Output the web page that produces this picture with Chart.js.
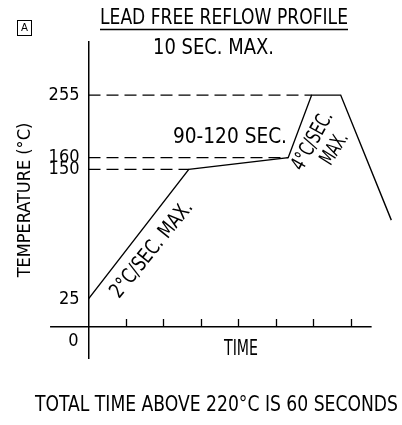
<!DOCTYPE html>
<html>
<head>
<meta charset="utf-8">
<script src="https://cdn.jsdelivr.net/npm/chart.js@4/dist/chart.umd.min.js"></script>
<style>
  html, body { margin: 0; padding: 0; background: #fff; }
  canvas { display: block; }
</style>
</head>
<body>
<canvas id="myChart" width="402" height="425"></canvas>
<script>
// profile (time in seconds, temperature in °C)
const profileTime = [0, 107, 213, 238, 269, 323];
const profileTemp = [25, 150, 160, 255, 255, 101];
// labelled temperatures on the vertical axis
const tempTicks = [25, 150, 160, 255];
// levels that get a dashed guide back to the axis
const guideLevels = [150, 160, 255];
// tick marks on the time axis
const timeTicks = [40, 80, 120, 160, 200, 240, 280];

const FONT = '"Liberation Sans Narrow", "DejaVu Sans Condensed", "Liberation Sans", sans-serif';
Chart.defaults.font.family = FONT;
Chart.defaults.color = '#000';

// the drawing is schematic: temperature axis is stretched piecewise
class BrokenScale extends Chart.LinearScale {
    getPixelForValue(value) {
        if (value === null || value === undefined || isNaN(value)) return NaN;
        const v = this.options.breakValues, f = this.options.breakFractions;
        let i = 1;
        while (i < v.length - 1 && value > v[i]) i++;
        const dec = f[i - 1] + (value - v[i - 1]) / (v[i] - v[i - 1]) * (f[i] - f[i - 1]);
        return this.getPixelForDecimal(dec);
    }
    getValueForPixel(pixel) {
        const v = this.options.breakValues, f = this.options.breakFractions;
        const dec = this.getDecimalForPixel(pixel);
        let i = 1;
        while (i < f.length - 1 && dec > f[i]) i++;
        return v[i - 1] + (dec - f[i - 1]) / (f[i] - f[i - 1]) * (v[i] - v[i - 1]);
    }
}
BrokenScale.id = 'broken';
BrokenScale.defaults = Chart.LinearScale.defaults;
Chart.register(BrokenScale);

const profile = profileTime.map((t, i) => ({ x: t, y: profileTemp[i] }));

const guides = guideLevels.map(level => {
    const t = profileTime[profileTemp.indexOf(level)];
    return {
        data: [{ x: 0, y: level }, { x: t, y: level }],
        borderColor: '#000',
        borderWidth: 1.4,
        borderDash: [12, 6],
        pointRadius: 0
    };
});

function fitText(c, text, x, y, width, size, angle) {
    c.save();
    c.translate(x, y);
    c.rotate(angle || 0);
    c.font = size + 'px ' + FONT;
    c.textAlign = 'center';
    c.textBaseline = 'middle';
    const w = c.measureText(text).width;
    c.scale(width / w, 1);
    c.fillText(text, 0, 0);
    c.restore();
}

const drawing = {
    id: 'drawing',
    afterDraw(chart) {
        const c = chart.ctx;
        const xs = chart.scales.x, ys = chart.scales.y;
        const y0 = ys.getPixelForValue(0);
        c.save();
        c.strokeStyle = '#000';
        c.fillStyle = '#000';
        c.lineWidth = 1.5;

        // time axis line, runs a little left of the origin
        c.beginPath();
        c.moveTo(xs.getPixelForValue(-41), y0);
        c.lineTo(xs.getPixelForValue(302), y0);
        c.stroke();

        c.font = '18px ' + FONT;
        c.textAlign = 'right';
        c.textBaseline = 'middle';
        c.fillText('0', ys.right - 10, y0 + 15);

        fitText(c, 'TIME', 241, 350, 34, 21);

        // header
        fitText(c, 'LEAD FREE REFLOW PROFILE', 224, 19, 248, 21);
        c.lineWidth = 1.3;
        c.beginPath();
        c.moveTo(100, 29.5);
        c.lineTo(348, 29.5);
        c.stroke();

        c.lineWidth = 1;
        c.strokeRect(17.5, 20.5, 14, 15);
        fitText(c, 'A', 24.5, 28.5, 7, 11);

        // notes
        fitText(c, '10 SEC. MAX.', 213.5, 49, 121, 21);
        fitText(c, '90-120 SEC.', 230, 138, 114, 21);
        fitText(c, '2°C/SEC. MAX.', 152, 250, 118, 21, -51 * Math.PI / 180);
        fitText(c, '4°C/SEC.', 313, 141, 64, 21, -61 * Math.PI / 180);
        fitText(c, 'MAX.', 335, 149, 34, 21, -58 * Math.PI / 180);
        fitText(c, 'TOTAL TIME ABOVE 220°C IS 60 SECONDS', 216.5, 406, 363, 21);
        c.restore();
    }
};

const ctx = document.getElementById('myChart');
new Chart(ctx, {
    type: 'line',
    data: {
        datasets: [{
            data: profile,
            borderColor: '#000',
            borderWidth: 1.4,
            pointRadius: 0,
            tension: 0,
            clip: false
        }].concat(guides)
    },
    options: {
        responsive: false,
        animation: false,
        layout: { padding: { top: 42, left: 0, right: 9, bottom: 67 } },
        plugins: {
            legend: { display: false },
            tooltip: { enabled: false }
        },
        scales: {
            x: {
                type: 'linear',
                position: { y: 0 },
                min: 0,
                max: 324.8,
                afterBuildTicks: s => { s.ticks = timeTicks.map(v => ({ value: v })); },
                ticks: { display: false },
                grid: {
                    drawOnChartArea: false,
                    drawTicks: true,
                    tickLength: -8,
                    tickColor: '#000',
                    tickWidth: 1.3
                },
                border: { display: false }
            },
            y: {
                type: 'broken',
                position: 'left',
                min: -28,
                max: 335,
                breakValues: [-28, 0, 25, 150, 160, 255, 335],
                breakFractions: [0, 0.099, 0.187, 0.597, 0.634, 0.832, 1],
                afterBuildTicks: s => { s.ticks = tempTicks.map(v => ({ value: v })); },
                afterFit: s => { s.width = 88.5; },
                ticks: {
                    padding: 9,
                    font: { size: 18 },
                    color: '#000',
                    callback: v => String(v)
                },
                grid: { drawOnChartArea: false, drawTicks: false },
                border: { display: true, color: '#000', width: 1.5 },
                title: {
                    display: true,
                    text: 'TEMPERATURE (°C)',
                    color: '#000',
                    font: { size: 18 },
                    padding: { top: 15, bottom: 0 }
                }
            }
        }
    },
    plugins: [drawing]
});
</script>
</body>
</html>
